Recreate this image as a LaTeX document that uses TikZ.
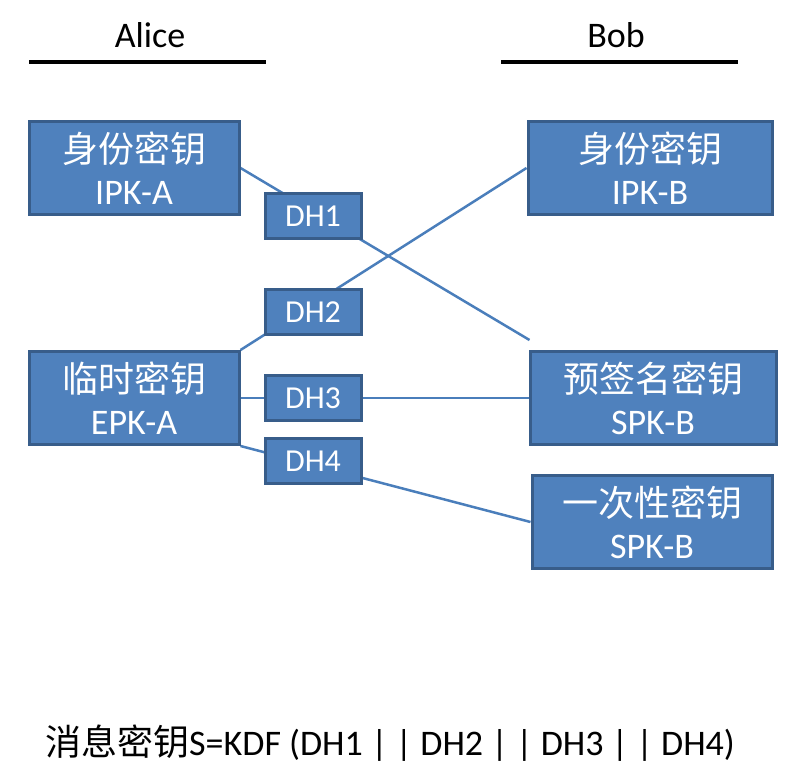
\documentclass[tikz,border=0pt]{standalone}
\usepackage{fontspec}
\setmainfont{Carlito}
\newfontfamily\cjk{Noto Sans CJK SC}
\usetikzlibrary{calc, backgrounds}
\definecolor{keyfill}{HTML}{4F81BD}
\definecolor{keydraw}{HTML}{385D8A}
\definecolor{linkblue}{HTML}{4A7EBB}
\tikzstyle{keybox} = [rectangle, draw=keydraw, fill=keyfill, line width=3pt, minimum height=93pt, text=white, align=center, inner sep=0pt, font=\fontsize{36}{42}\selectfont]
\tikzstyle{dhbox} = [keybox, minimum width=96pt, minimum height=45pt, font=\fontsize{32}{36}\selectfont]
\tikzstyle{link} = [draw=linkblue, line width=2.5pt]
\tikzstyle{party} = [font=\fontsize{36}{40}\selectfont]

\begin{document}
\begin{tikzpicture}[x=1pt, y=-1pt]
\useasboundingbox (0,0) rectangle (805,776);

% Parties
\node (alice) [party] at (150,35) {Alice};
\node (bob) [party] at (616,35) {Bob};
\draw[line width=3pt] (29,62) -- (266,62);
\draw[line width=3pt] (501,62) -- (738,62);

% Alice keys
\node (ipka) [keybox, minimum width=210pt] at (134,168) {{\cjk 身份密钥}\\IPK-A};
\node (epka) [keybox, minimum width=210pt] at (134,398) {{\cjk 临时密钥}\\EPK-A};

% Bob keys
\node (ipkb) [keybox, minimum width=244pt] at (650,168) {{\cjk 身份密钥}\\IPK-B};
\node (spkb) [keybox, minimum width=246pt] at (653,398) {{\cjk 预签名密钥}\\SPK-B};
\node (opkb) [keybox, minimum width=240pt] at (652,522) {{\cjk 一次性密钥}\\SPK-B};

% DH computations
\node (dh1) [dhbox] at (313,216) {DH1};
\node (dh2) [dhbox] at (313,312) {DH2};
\node (dh3) [dhbox] at (313,398) {DH3};
\node (dh4) [dhbox] at (313,461) {DH4};

% Links behind the DH boxes
\coordinate (spktop) at ($(spkb.north west)+(1,-10)$);
\begin{scope}[on background layer]
  \draw[link] (ipka.east) -- (spktop);
  \draw[link] (epka.north east) -- (ipkb.west);
  \draw[link] (epka.east) -- (spkb.west);
  \draw[link] (epka.south east) -- (opkb.west);
\end{scope}

% Message key
\node (msgkey) [anchor=base west, font=\fontsize{36}{40}\selectfont, inner sep=0pt] at (45,755) {{\cjk 消息密钥}S=KDF (DH1 | | DH2 | | DH3 | | DH4)};

\end{tikzpicture}
\end{document}
